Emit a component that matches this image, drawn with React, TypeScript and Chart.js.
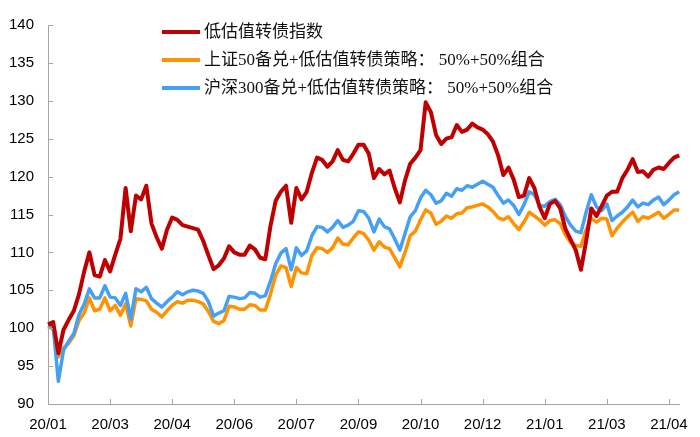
import React, { useEffect, useRef } from "react";
import { Chart, registerables } from "chart.js";

Chart.register(...registerables);

const tickLabels = ["20/01", "20/03", "20/04", "20/06", "20/07", "20/09", "20/10", "20/12", "21/01", "21/03", "21/04"];
const pointsPerTick = 12;

const seriesNames = [
  "低估值转债指数",
  "上证50备兑+低估值转债策略： 50%+50%组合",
  "沪深300备兑+低估值转债策略： 50%+50%组合",
];

const lowValIndex = [
  100.5, 100.8, 96.7, 99.8, 101.1, 102.3, 104.5, 107.5, 110, 107, 106.8, 109,
  107.5, 109.7, 111.8, 118.5, 112.8, 117.5, 117, 118.8, 113.8, 112, 110.5, 113,
  114.6, 114.3, 113.6, 113.4, 113.2, 113, 111.5, 109.6, 107.8, 108.3, 109.2, 110.8,
  110, 109.7, 109.7, 110.9, 110.4, 109.3, 109.1, 113.5, 116.8, 118, 118.8, 113.9,
  118.5, 117, 118, 120.5, 122.5, 122.2, 121.3, 122, 123.5, 122.2, 122, 123,
  124.2, 124.2, 123, 119.8, 121, 120.3, 120.8, 118.5, 116.6, 119.5, 121.7, 122.5,
  123.5, 129.8, 128.5, 125.5, 124.3, 125, 125.2, 126.8, 125.9, 126.2, 127, 126.5,
  126.2, 125.6, 124.6, 122.8, 120.2, 121.2, 119.6, 117.3, 117.5, 119.8, 118.5, 116,
  114.5, 116.4, 116.8, 115.8, 113.1, 111.7, 110.3, 107.7, 111.5, 115.8, 114.8, 116.1,
  117.5, 118, 118, 119.8, 120.9, 122.3, 120.6, 120.7, 120, 120.9, 121.2, 121,
  121.8, 122.5, 122.8,
];

const sz50Mix = [
  100.2, 99.9, 96.2, 97.4, 98, 99, 101, 102, 104, 102.3, 102.5, 104,
  102.3, 103, 101.7, 103.2, 100.3, 103.9, 103.8, 103.6, 102.5, 102.1, 101.5, 102.3,
  103, 103.5, 103.3, 103.7, 103.7, 103.5, 103.2, 102.2, 100.9, 100.6, 101, 102.9,
  102.8, 102.5, 102.5, 103.1, 103, 102.4, 102.4, 104.5, 107, 108.2, 108, 105.5,
  108, 107.3, 107.2, 109.6, 110.6, 110.5, 110, 110.6, 111.9, 111.1, 111, 111.9,
  112.7, 112.5, 111.6, 110.3, 111.4, 110.7, 110.5, 109.3, 108.1, 110, 112.2, 112.8,
  114.3, 115.6, 115.2, 113.7, 114.1, 114.8, 114.5, 115.1, 115.2, 115.9, 116, 116.2,
  116.4, 116, 115.4, 114.6, 114.3, 114.7, 113.8, 113, 114, 115.3, 114.8, 114.3,
  113.6, 114.2, 114.3, 113.8, 112.3, 111.3, 110.9, 110.8, 113, 114.5, 114, 114.5,
  114.4, 112.2, 113.2, 114, 114.7, 115.3, 114.1, 114.7, 114.5, 114.9, 115.3, 114.5,
  115, 115.6, 115.6,
];

const hs300Mix = [
  100.4, 100.2, 93, 97.1, 98.3, 99.3, 101.8, 103.2, 105.2, 104, 104, 105.6,
  104.1, 104, 103, 104.6, 101.2, 105.2, 104.8, 105.4, 103.9, 103.3, 102.8, 103.5,
  104.1, 104.8, 104.4, 104.8, 105, 104.9, 104.6, 103.5, 101.6, 102, 102.3, 104.2,
  104.1, 103.9, 104, 104.7, 104.6, 104.1, 104.3, 106.2, 108.5, 109.9, 110.5, 107.7,
  110.6, 109.6, 110.2, 112.2, 113.4, 113.3, 112.7, 113.3, 114.2, 113.3, 113.6, 114.1,
  115.5, 115.4, 114.5, 112.7, 114.4, 113.4, 113.1, 111.8, 110.3, 112.5, 114.7, 115.5,
  117.2, 118.2, 117.6, 116.5, 116.8, 117.8, 117.4, 118.4, 118.2, 118.8, 118.6, 119,
  119.4, 119, 118.6, 117.5, 116.5, 116.9, 116.2, 115, 116.3, 118, 117.6, 116.2,
  116.1, 116.7, 117, 116.3, 114.7, 113.6, 112.8, 112.6, 115.3, 117.6, 116, 115.5,
  116.4, 114.2, 114.8, 115.3, 116, 116.9, 116, 116.5, 116.3, 116.9, 117.3, 116.3,
  116.9, 117.6, 118,
];

const yTicks = [90, 95, 100, 105, 110, 115, 120, 125, 130, 135, 140];

const colors = ["#C00000", "#FF9200", "#45A0F5"];

const categories = lowValIndex.map((_, i) =>
  i % pointsPerTick === 0 ? tickLabels[i / pointsPerTick] ?? "" : ""
);

const axisColor = "#A6A6A6";

const inwardTicks = {
  id: "inwardTicks",
  afterDraw(chart: any) {
    const { ctx, chartArea, scales } = chart;
    const x = scales.x;
    const y = scales.y;
    ctx.save();
    ctx.strokeStyle = axisColor;
    ctx.lineWidth = 1;
    for (let i = 0; i < categories.length; i += pointsPerTick) {
      const px = Math.round(x.getPixelForValue(i)) + 0.5;
      ctx.beginPath();
      ctx.moveTo(px, chartArea.bottom);
      ctx.lineTo(px, chartArea.bottom - 5);
      ctx.stroke();
    }
    yTicks.forEach((v) => {
      const py = Math.round(y.getPixelForValue(v)) + 0.5;
      ctx.beginPath();
      ctx.moveTo(chartArea.left, py);
      ctx.lineTo(chartArea.left + 5, py);
      ctx.stroke();
    });
    ctx.restore();
  },
};

const innerLegend = {
  id: "innerLegend",
  afterDraw(chart: any) {
    const { ctx, chartArea } = chart;
    const x0 = chartArea.left + 114;
    ctx.save();
    ctx.font = "17px 'Liberation Serif', 'Noto Sans CJK SC', serif";
    ctx.textBaseline = "middle";
    ctx.fillStyle = "#111";
    seriesNames.forEach((name, i) => {
      const yy = chartArea.top + 7 + i * 28;
      ctx.strokeStyle = colors[i];
      ctx.lineWidth = 4;
      ctx.beginPath();
      ctx.moveTo(x0, yy);
      ctx.lineTo(x0 + 38, yy);
      ctx.stroke();
      ctx.fillText(name, x0 + 42, yy + 1);
    });
    ctx.restore();
  },
};

export default function App() {
  const ref = useRef<HTMLCanvasElement | null>(null);

  useEffect(() => {
    document.body.style.margin = "0";
    if (!ref.current) return;
    const seriesData = [lowValIndex, sz50Mix, hs300Mix];
    const chart = new Chart(ref.current, {
      type: "line",
      data: {
        labels: categories,
        datasets: seriesNames.map((name, i) => ({
          label: name,
          data: seriesData[i],
          borderColor: colors[i],
          backgroundColor: colors[i],
          borderWidth: i === 0 ? 4 : 3.5,
          pointRadius: 0,
          tension: 0,
          borderJoinStyle: "round" as const,
          order: i === 0 ? 0 : i === 1 ? 2 : 1,
        })),
      },
      options: {
        animation: false,
        responsive: true,
        maintainAspectRatio: false,
        layout: { padding: { top: 25, right: 20, left: 0, bottom: 0 } },
        plugins: { legend: { display: false }, tooltip: { enabled: false } },
        scales: {
          x: {
            type: "category",
            offset: false,
            grid: { display: false, drawTicks: false },
            border: { display: true, color: axisColor, width: 1 },
            ticks: {
              autoSkip: false,
              maxRotation: 0,
              padding: 12,
              color: "#000",
              font: { family: "'Liberation Sans', Arial, sans-serif", size: 15 },
              callback: (_v: any, idx: number) =>
                idx % pointsPerTick === 0 ? categories[idx] : null,
            },
            afterFit: (s: any) => {
              s.height = 33;
            },
          },
          y: {
            min: 90,
            max: 140,
            grid: { display: false, drawTicks: false },
            border: { display: true, color: axisColor, width: 1 },
            ticks: {
              stepSize: 5,
              padding: 14,
              color: "#000",
              font: { family: "'Liberation Sans', Arial, sans-serif", size: 15 },
            },
            afterFit: (s: any) => {
              s.width = 48;
            },
          },
        },
      },
      plugins: [inwardTicks, innerLegend],
    });
    return () => chart.destroy();
  }, []);

  return (
    <div style={{ position: "relative", width: 700, height: 437 }}>
      <canvas ref={ref} />
    </div>
  );
}
